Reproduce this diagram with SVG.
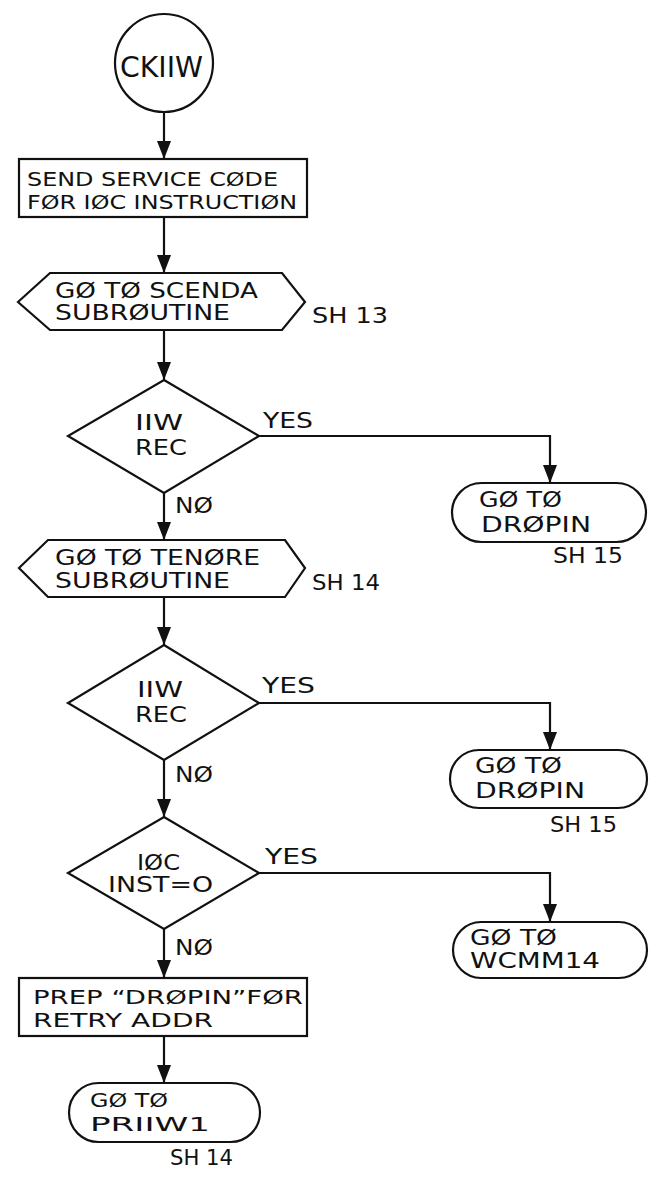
<svg xmlns="http://www.w3.org/2000/svg" width="653" height="1184" viewBox="0 0 653 1184">
<defs>
<marker id="ah" viewBox="0 0 18 14" refX="18" refY="7" markerWidth="18" markerHeight="14" markerUnits="userSpaceOnUse" orient="auto">
<path d="M0,0 L18,7 L0,14 z" fill="#111"/>
</marker>
</defs>
<style>
.s{fill:#fff;stroke:#111;stroke-width:2.2}
.c{fill:none;stroke:#111;stroke-width:2.2}
text{font-family:"DejaVu Sans","Liberation Sans",sans-serif;font-size:21px;fill:#111}
.big{font-size:29px}
.sm{font-size:19px}
</style>
<rect width="653" height="1184" fill="#fff"/>
<g id="connectors">
<line class="c" x1="164" y1="112" x2="164" y2="159" marker-end="url(#ah)"/>
<line class="c" x1="164" y1="217" x2="164" y2="273" marker-end="url(#ah)"/>
<line class="c" x1="164" y1="330" x2="164" y2="380" marker-end="url(#ah)"/>
<polyline class="c" points="259,436 550,436 550,483" marker-end="url(#ah)"/>
<line class="c" x1="164" y1="493" x2="164" y2="540" marker-end="url(#ah)"/>
<line class="c" x1="164" y1="597" x2="164" y2="645" marker-end="url(#ah)"/>
<polyline class="c" points="259,703 550,703 550,750" marker-end="url(#ah)"/>
<line class="c" x1="164" y1="760" x2="164" y2="817" marker-end="url(#ah)"/>
<polyline class="c" points="259,873 550,873 550,922" marker-end="url(#ah)"/>
<line class="c" x1="164" y1="929" x2="164" y2="978" marker-end="url(#ah)"/>
<line class="c" x1="164" y1="1036" x2="164" y2="1083" marker-end="url(#ah)"/>
<text x="263" y="428" textLength="50" lengthAdjust="spacingAndGlyphs">YES</text>
<text x="175" y="513" textLength="38" lengthAdjust="spacingAndGlyphs">NØ</text>
<text x="262" y="693" textLength="53" lengthAdjust="spacingAndGlyphs">YES</text>
<text x="175" y="782" textLength="38" lengthAdjust="spacingAndGlyphs">NØ</text>
<text x="265" y="864" textLength="53" lengthAdjust="spacingAndGlyphs">YES</text>
<text x="175" y="955" textLength="38" lengthAdjust="spacingAndGlyphs">NØ</text>
</g>
<g id="start">
<circle class="s" cx="164" cy="63" r="49"/>
<text class="big" x="120" y="77" textLength="83" lengthAdjust="spacingAndGlyphs">CKIIW</text>
</g>
<g id="send">
<rect class="s" x="19" y="159" width="288" height="58"/>
<text class="sm" x="27" y="186" textLength="251" lengthAdjust="spacingAndGlyphs">SEND SERVICE CØDE</text>
<text class="sm" x="27" y="209" textLength="270" lengthAdjust="spacingAndGlyphs">FØR IØC INSTRUCTIØN</text>
</g>
<g id="scenda">
<polygon class="s" points="18,302 50,273 282,273 305,302 282,330 50,330"/>
<text x="55" y="298" textLength="203" lengthAdjust="spacingAndGlyphs">GØ TØ SCENDA</text>
<text x="55" y="320" textLength="175" lengthAdjust="spacingAndGlyphs">SUBRØUTINE</text>
<text x="312" y="323" textLength="76" lengthAdjust="spacingAndGlyphs">SH 13</text>
</g>
<g id="dec1">
<polygon class="s" points="164,380 259,436 164,493 68,436"/>
<text x="135" y="430" textLength="48" lengthAdjust="spacingAndGlyphs">IIW</text>
<text x="135" y="455" textLength="52" lengthAdjust="spacingAndGlyphs">REC</text>
</g>
<g id="dropin1">
<rect class="s" x="452" y="483" width="194" height="59" rx="29.5"/>
<text x="479" y="507" textLength="83" lengthAdjust="spacingAndGlyphs">GØ TØ</text>
<text x="481" y="532" textLength="110" lengthAdjust="spacingAndGlyphs">DRØPIN</text>
<text x="553" y="563" textLength="70" lengthAdjust="spacingAndGlyphs">SH 15</text>
</g>
<g id="tenore">
<polygon class="s" points="19,568 48,540 285,540 305,568 285,597 48,597"/>
<text x="55" y="565" textLength="205" lengthAdjust="spacingAndGlyphs">GØ TØ TENØRE</text>
<text x="55" y="588" textLength="175" lengthAdjust="spacingAndGlyphs">SUBRØUTINE</text>
<text x="312" y="590" textLength="68" lengthAdjust="spacingAndGlyphs">SH 14</text>
</g>
<g id="dec2">
<polygon class="s" points="164,645 259,703 164,760 68,703"/>
<text x="137" y="697" textLength="46" lengthAdjust="spacingAndGlyphs">IIW</text>
<text x="135" y="722" textLength="52" lengthAdjust="spacingAndGlyphs">REC</text>
</g>
<g id="dropin2">
<rect class="s" x="450" y="750" width="197" height="58" rx="29"/>
<text x="475" y="773" textLength="87" lengthAdjust="spacingAndGlyphs">GØ TØ</text>
<text x="475" y="798" textLength="110" lengthAdjust="spacingAndGlyphs">DRØPIN</text>
<text x="550" y="832" textLength="67" lengthAdjust="spacingAndGlyphs">SH 15</text>
</g>
<g id="dec3">
<polygon class="s" points="164,817 259,873 164,929 68,873"/>
<text x="137" y="870" textLength="43" lengthAdjust="spacingAndGlyphs">IØC</text>
<text x="108" y="892" textLength="105" lengthAdjust="spacingAndGlyphs">INST=O</text>
</g>
<g id="wcmm14">
<rect class="s" x="453" y="922" width="194" height="56" rx="28"/>
<text x="470" y="945" textLength="87" lengthAdjust="spacingAndGlyphs">GØ TØ</text>
<text x="470" y="968" textLength="130" lengthAdjust="spacingAndGlyphs">WCMM14</text>
</g>
<g id="prep">
<rect class="s" x="19" y="978" width="288" height="58"/>
<text class="sm" x="33" y="1004" textLength="270" lengthAdjust="spacingAndGlyphs">PREP “DRØPIN”FØR</text>
<text class="sm" x="33" y="1027" textLength="180" lengthAdjust="spacingAndGlyphs">RETRY ADDR</text>
</g>
<g id="priiw1">
<rect class="s" x="69" y="1083" width="191" height="59" rx="29.5"/>
<text class="sm" x="90" y="1107" textLength="78" lengthAdjust="spacingAndGlyphs">GØ TØ</text>
<text class="sm" x="90" y="1131" textLength="120" lengthAdjust="spacingAndGlyphs">PRIIW1</text>
<text x="170" y="1165" textLength="63" lengthAdjust="spacingAndGlyphs">SH 14</text>
</g>
</svg>
